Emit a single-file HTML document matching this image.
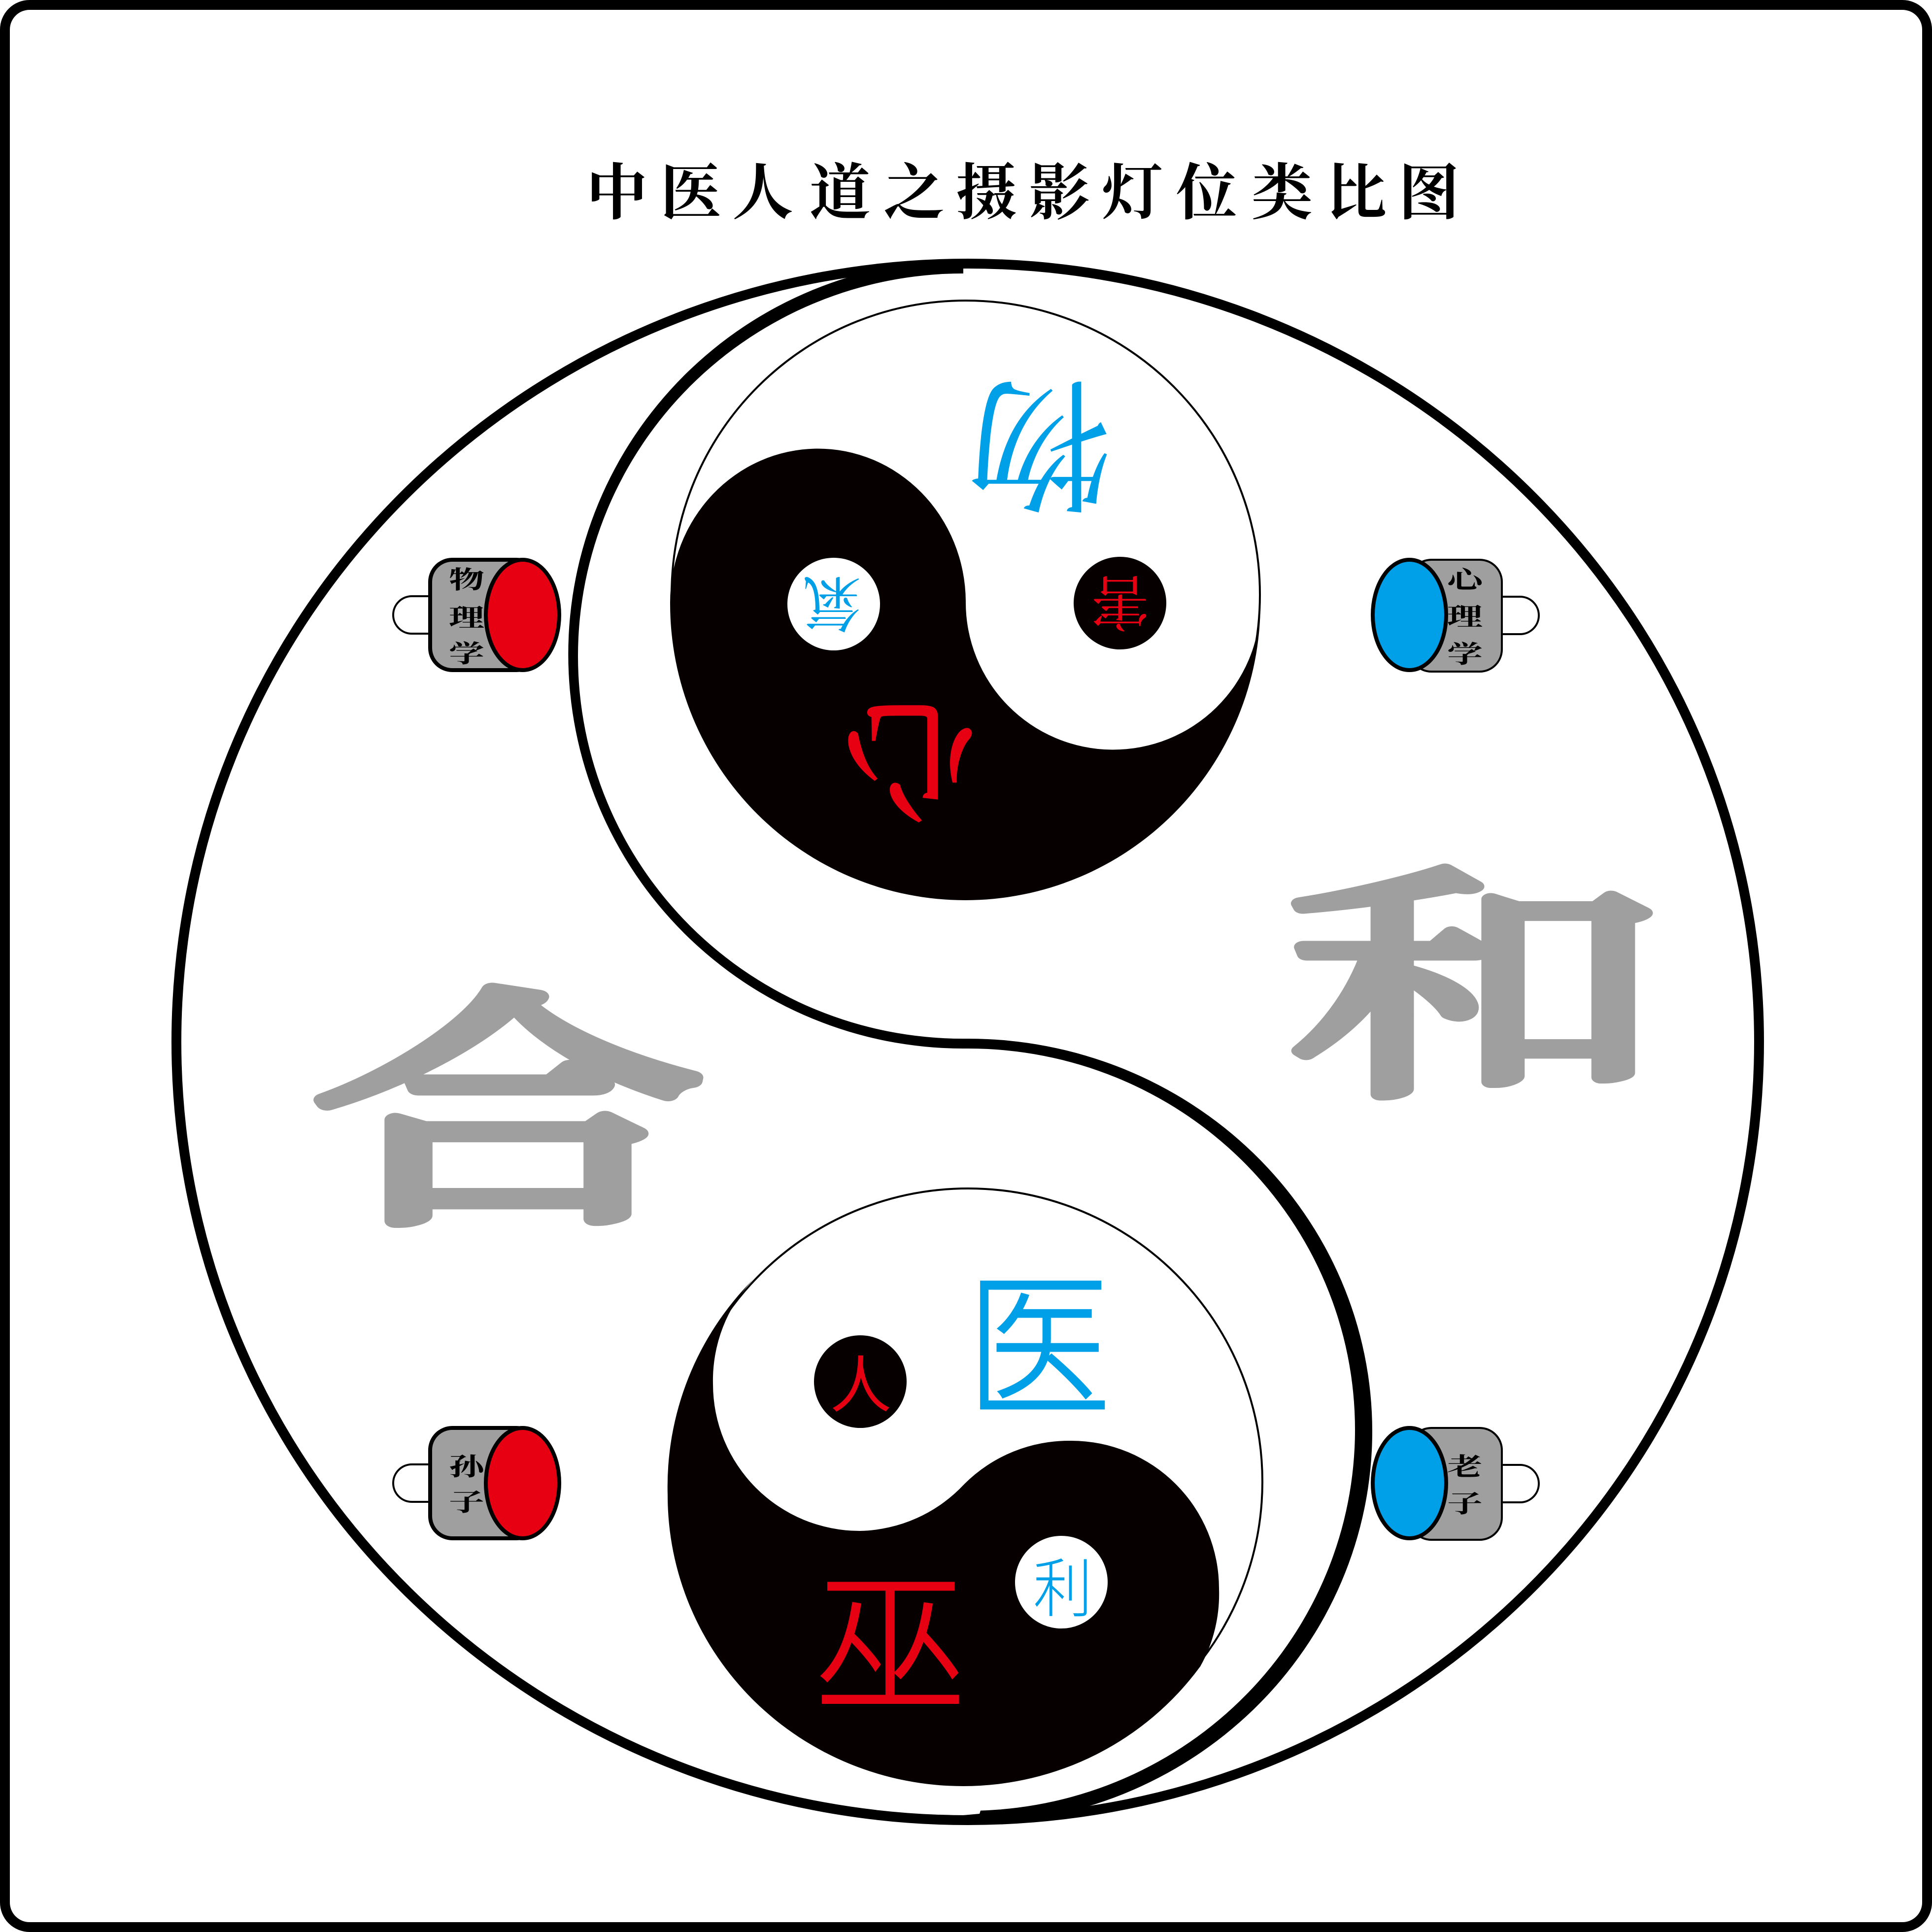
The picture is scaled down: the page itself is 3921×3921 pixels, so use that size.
<!DOCTYPE html>
<html lang="zh">
<head>
<meta charset="utf-8">
<title>中医人道之摄影灯位类比图</title>
<style>
html,body{margin:0;padding:0;background:#fff;width:3921px;height:3921px;overflow:hidden}
svg{display:block}
.se{font-family:"Liberation Serif","Noto Serif CJK SC",serif}
.sa{font-family:"Liberation Sans","Noto Sans CJK SC",sans-serif}
text{text-anchor:middle}
</style>
</head>
<body>
<svg xmlns="http://www.w3.org/2000/svg" width="3921" height="3921" viewBox="0 0 3921 3921">
<rect width="3921" height="3921" fill="#fff"/>
<rect x="10" y="10" width="3901" height="3901" rx="50" ry="50" fill="none" stroke="#000" stroke-width="20"/>

<!-- title -->
<g class="se" font-size="124" font-weight="700" fill="#000">
<text x="1252" y="434">中</text>
<text x="1402" y="434">医</text>
<text x="1548" y="434">人</text>
<text x="1705" y="434">道</text>
<text x="1855" y="434">之</text>
<text x="2002" y="434">摄</text>
<text x="2150" y="434">影</text>
<text x="2298" y="434">灯</text>
<text x="2449" y="434">位</text>
<text x="2602" y="434">类</text>
<text x="2752" y="434">比</text>
<text x="2900" y="434">图</text>
</g>

<!-- big outer circle -->
<ellipse cx="1964" cy="2114.5" rx="1606" ry="1579.5" fill="none" stroke="#000" stroke-width="20"/>

<!-- S curve -->
<path d="M1955,528 A802,800 0 0 0 1955,2128 L1965,2128 L1965,2108 L1955,2108 A782,776.5 0 0 1 1955,555 Z" fill="#000"/>
<path d="M1965,2108 A820,797 0 0 1 1965,3702 L1955,3702 L1955,3684 L1988,3681 L1990,3674.6 A785,773.5 0 0 0 2750,2901.500 A785,773.5 0 0 0 1965,2128 Z" fill="#000"/>

<!-- upper taiji -->
<circle cx="1960" cy="1207" r="597" fill="#fff" stroke="#000" stroke-width="4"/>
<path d="M1360,1225 A599,602 0 0 0 2558,1225 A299,299 0 0 1 1960,1220 A300,312 0 0 0 1360,1225 Z" fill="#060001"/>
<circle cx="1692" cy="1226" r="94" fill="#fff"/>
<circle cx="2273" cy="1224" r="94" fill="#060001"/>

<g class="se" fill="#00a0e9" font-size="100">
<text y="38" transform="translate(2110,907) rotate(180) scale(2.95,2.9)">物</text>
<text y="38" transform="translate(1689,1227) rotate(180) scale(1.2,1.22)">氣</text>
</g>
<g class="se" fill="#e60012" font-size="100">
<text y="38" stroke="#e60012" stroke-width="1.5" transform="translate(1847,1545) rotate(180) scale(2.7,2.7)">心</text>
<text y="38" transform="translate(2273,1225) rotate(180) scale(1.18,1.22)">害</text>
</g>

<!-- lower taiji -->
<ellipse cx="1965" cy="3007" rx="597" ry="595" fill="#fff" stroke="#000" stroke-width="4"/>
<path d="M1530,2595 A596,596 0 0 0 1355,3035 A600,590 0 0 0 1955,3625 A595,590 0 0 0 2436,3382 A300,300 0 0 0 2474,3225 A300,300 0 0 0 2174,2924 A300,300 0 0 0 1957,3012 A298,298 0 0 1 1745,3107 A298,298 0 0 1 1447,2809 A298,298 0 0 1 1530,2595 Z" fill="#060001"/>
<circle cx="1746" cy="2804" r="94" fill="#060001"/>
<circle cx="2154" cy="3211" r="94" fill="#fff"/>

<g class="sa" fill="#00a0e9" font-size="100">
<text y="38" font-weight="300" stroke="#00a0e9" stroke-width="1" transform="translate(2108,2727) scale(2.95,3.2)">医</text>
<text y="38" font-weight="300" transform="translate(2157,3221) scale(1.2,1.3)">利</text>
</g>
<g class="sa" fill="#e60012" font-size="100">
<text y="38" transform="translate(1747,2808) scale(1.25,1.25)">人</text>
<text y="38" font-weight="300" stroke="#e60012" stroke-width="1" transform="translate(1807,3331) scale(3.1,3.15)">巫</text>
</g>

<!-- grey big glyphs -->
<g class="se" fill="#9f9f9f" stroke="#9f9f9f" stroke-linejoin="round" stroke-linecap="round" font-weight="400" font-size="100">
<text y="38" stroke-width="5.5" transform="translate(1031,2245) scale(8,5.1)">合</text>
<text y="38" stroke-width="5" transform="translate(2998,1992) scale(7.7,5)">和</text>
</g>

<!-- lamp 物理学 -->
<g>
<rect x="798" y="1210" width="120" height="76" rx="38" fill="#fff" stroke="#000" stroke-width="4"/>
<rect x="873" y="1136" width="220" height="224" rx="45" fill="#9f9f9f" stroke="#000" stroke-width="8"/>
<ellipse cx="1060.5" cy="1248" rx="74.500" ry="112" fill="#e60012" stroke="#000" stroke-width="8"/>
<g class="se" font-size="100" font-weight="700" fill="#000">
<text y="38" transform="translate(947,1175) scale(.72,.5)">物</text>
<text y="38" transform="translate(947,1252) scale(.72,.5)">理</text>
<text y="38" transform="translate(947,1325) scale(.72,.5)">学</text>
</g>
</g>

<!-- lamp 孙子 -->
<g>
<rect x="798" y="2972" width="120" height="76" rx="38" fill="#fff" stroke="#000" stroke-width="4"/>
<rect x="873" y="2898" width="220" height="224" rx="45" fill="#9f9f9f" stroke="#000" stroke-width="8"/>
<ellipse cx="1060.5" cy="3010" rx="74.500" ry="112" fill="#e60012" stroke="#000" stroke-width="8"/>
<g class="se" font-size="100" font-weight="700" fill="#000">
<text y="38" transform="translate(947,2975) scale(.72,.5)">孙</text>
<text y="38" transform="translate(947,3047) scale(.72,.5)">子</text>
</g>
</g>

<!-- lamp 心理学 -->
<g>
<rect x="3005" y="1211" width="118" height="76" rx="38" fill="#fff" stroke="#000" stroke-width="4"/>
<rect x="2860" y="1136" width="188" height="227" rx="45" fill="#9f9f9f" stroke="#000" stroke-width="4"/>
<ellipse cx="2860.5" cy="1248" rx="74.500" ry="112" fill="#00a0e9" stroke="#000" stroke-width="8"/>
<g class="se" font-size="100" font-weight="700" fill="#000">
<text y="38" transform="translate(2973,1175) scale(.72,.5)">心</text>
<text y="38" transform="translate(2973,1250) scale(.72,.5)">理</text>
<text y="38" transform="translate(2973,1326) scale(.72,.5)">学</text>
</g>
</g>

<!-- lamp 老子 -->
<g>
<rect x="3005" y="2973" width="118" height="76" rx="38" fill="#fff" stroke="#000" stroke-width="4"/>
<rect x="2860" y="2898" width="188" height="227" rx="45" fill="#9f9f9f" stroke="#000" stroke-width="4"/>
<ellipse cx="2860.5" cy="3010" rx="74.500" ry="112" fill="#00a0e9" stroke="#000" stroke-width="8"/>
<g class="se" font-size="100" font-weight="700" fill="#000">
<text y="38" transform="translate(2973,2975) scale(.72,.5)">老</text>
<text y="38" transform="translate(2973,3050) scale(.72,.5)">子</text>
</g>
</g>
</svg>
</body>
</html>
